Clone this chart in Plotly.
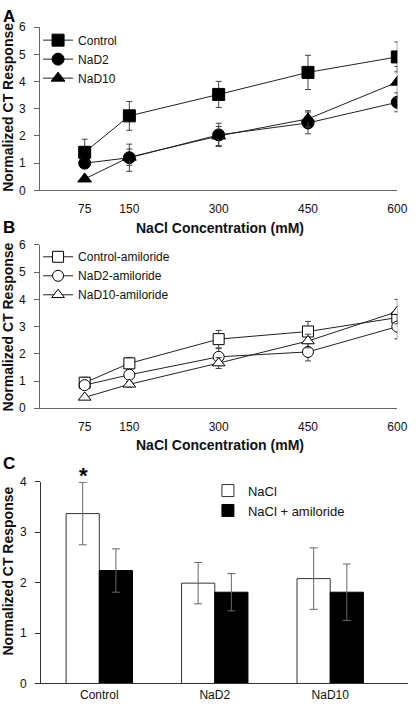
import plotly.graph_objects as go

# ---------------- Data ----------------
conc = [75, 150, 300, 450, 600]

# Panel A
ctrl_a = [1.40, 2.74, 3.53, 4.34, 4.91]
ctrl_a_err = [0.48, 0.53, 0.48, 0.63, 0.55]
nad2_a = [1.00, 1.20, 2.04, 2.48, 3.24]
nad2_a_err = [0.10, 0.50, 0.43, 0.40, 0.35]
nad10_a = [0.42, 1.22, 2.00, 2.63, 3.98]
nad10_a_err = [0.05, 0.30, 0.35, 0.30, 0.58]

# Panel B
ctrl_b = [0.94, 1.65, 2.54, 2.82, 3.33]
ctrl_b_err = [0.20, 0.22, 0.32, 0.37, 0.30]
nad2_b = [0.85, 1.23, 1.89, 2.07, 3.00]
nad2_b_err = [0.10, 0.15, 0.30, 0.33, 0.45]
nad10_b = [0.40, 0.88, 1.66, 2.47, 3.55]
nad10_b_err = [0.05, 0.10, 0.20, 0.25, 0.45]

# Panel C
groups = ["Control", "NaD2", "NaD10"]
nacl = [3.37, 1.99, 2.08]
nacl_err = [0.62, 0.41, 0.61]
nacl_amil = [2.24, 1.81, 1.81]
nacl_amil_err = [0.43, 0.37, 0.56]

x_ticks = [75, 150, 300, 450, 600]
y_ticks_ab = [0, 1, 2, 3, 4, 5, 6]
y_ticks_c = [0, 1, 2, 3, 4]

FONT = "Liberation Sans, Arial, sans-serif"
W, H = 420, 714


def px_y(p):
    return 1 - p / H


def px_x(p):
    return p / W


fig = go.Figure()


def line_trace(y, err, name, symbol, filled, xa, ya, legend, size):
    return go.Scatter(
        x=conc, y=y, name=name, mode="lines+markers",
        xaxis=xa, yaxis=ya, legend=legend,
        line=dict(color="#222", width=1),
        marker=dict(symbol=symbol, size=size,
                    color="black" if filled else "white",
                    line=dict(color="black", width=1)),
        error_y=dict(type="data", array=err, color="#444", thickness=1, width=3),
    )


# Panel A
fig.add_trace(line_trace(ctrl_a, ctrl_a_err, "Control", "square", True, "x", "y", "legend", 12))
fig.add_trace(line_trace(nad2_a, nad2_a_err, "NaD2", "circle", True, "x", "y", "legend", 12))
fig.add_trace(line_trace(nad10_a, nad10_a_err, "NaD10", "triangle-up", True, "x", "y", "legend", 12))

# Panel B
fig.add_trace(line_trace(ctrl_b, ctrl_b_err, "Control-amiloride", "square", False, "x2", "y2", "legend2", 11))
fig.add_trace(line_trace(nad2_b, nad2_b_err, "NaD2-amiloride", "circle", False, "x2", "y2", "legend2", 11))
fig.add_trace(line_trace(nad10_b, nad10_b_err, "NaD10-amiloride", "triangle-up", False, "x2", "y2", "legend2", 11))

# Panel C
fig.add_trace(go.Bar(
    x=groups, y=nacl, name="NaCl", xaxis="x3", yaxis="y3", legend="legend3",
    marker=dict(color="white", line=dict(color="#333", width=1)),
    error_y=dict(type="data", array=nacl_err, color="#666", thickness=1, width=4),
))
fig.add_trace(go.Bar(
    x=groups, y=nacl_amil, name="NaCl + amiloride", xaxis="x3", yaxis="y3", legend="legend3",
    marker=dict(color="black", line=dict(color="black", width=1)),
    error_y=dict(type="data", array=nacl_amil_err, color="#666", thickness=1, width=4),
))

axis_col = "#666"
tickfont = dict(family=FONT, size=12, color="#111")

xa_common = dict(
    range=[0, 600], tickvals=x_ticks, ticks="", showline=True, linecolor=axis_col,
    linewidth=1, showgrid=False, zeroline=False, tickfont=tickfont,
    ticklabelstandoff=7, fixedrange=True,
)
ya_common = dict(
    range=[0, 6], tickvals=y_ticks_ab, ticks="outside", ticklen=5, tickcolor=axis_col,
    showline=True, linecolor=axis_col, linewidth=1, showgrid=False, zeroline=False,
    tickfont=tickfont, ticklabelstandoff=6,
)
legend_common = dict(xanchor="left", yanchor="top", bgcolor="rgba(0,0,0,0)",
                     font=dict(family=FONT, size=12, color="#111"),
                     itemwidth=30, tracegroupgap=0)

fig.update_layout(
    width=W, height=H, margin=dict(l=0, r=0, t=0, b=0),
    paper_bgcolor="white", plot_bgcolor="white",
    font=dict(family=FONT, color="#111"),
    barmode="group", bargap=0.425, bargroupgap=0,
    xaxis=dict(domain=[px_x(41), px_x(407)], anchor="y", **xa_common),
    yaxis=dict(domain=[px_y(187), px_y(20.7)], anchor="x", **ya_common),
    xaxis2=dict(domain=[px_x(41), px_x(407)], anchor="y2", **xa_common),
    yaxis2=dict(domain=[px_y(409.3), px_y(242.7)], anchor="x2", **ya_common),
    xaxis3=dict(domain=[px_x(42), px_x(418)], anchor="y3", range=[-0.505, 2.674],
                ticks="", showline=True, linecolor="#333", showgrid=False,
                tickfont=dict(family=FONT, size=12, color="#111"), ticklabelstandoff=0),
    yaxis3=dict(domain=[px_y(690), px_y(484.3)], anchor="x3", range=[0, 4],
                tickvals=y_ticks_c, ticks="outside", ticklen=5, tickcolor="#333",
                showline=True, linecolor="#333", showgrid=False, zeroline=False,
                tickfont=tickfont, ticklabelstandoff=6),
    legend=dict(x=px_x(39), y=px_y(19), **legend_common),
    legend2=dict(x=px_x(39), y=px_y(240), **legend_common),
    legend3=dict(x=px_x(213), y=px_y(478), xanchor="left", yanchor="top",
                 bgcolor="rgba(0,0,0,0)", font=dict(family=FONT, size=13, color="#111"),
                 itemwidth=30, tracegroupgap=0),
    showlegend=True,
)

ann = []
# Panel letters
for letter, yp in [("A", 10), ("B", 225), ("C", 466)]:
    ann.append(dict(text=f"<b>{letter}</b>", x=px_x(1), y=px_y(yp), xref="paper", yref="paper",
                    xanchor="left", yanchor="middle", showarrow=False,
                    font=dict(family=FONT, size=17, color="black")))
# Y-axis titles
for yc in [102, 326, 575]:
    ann.append(dict(text="<b>Normalized CT Response</b>", x=px_x(8), y=px_y(yc),
                    xref="paper", yref="paper", xanchor="center", yanchor="middle",
                    textangle=-90, showarrow=False,
                    font=dict(family=FONT, size=14, color="#111")))
# X-axis titles
for yc in [225, 447]:
    ann.append(dict(text="<b>NaCl Concentration (mM)</b>", x=px_x(225), y=px_y(yc),
                    xref="paper", yref="paper", xanchor="center", yanchor="middle",
                    showarrow=False, font=dict(family=FONT, size=14, color="#111")))
# Significance asterisk
ann.append(dict(text="<b>*</b>", x=px_x(86), y=px_y(478), xref="paper", yref="paper",
                xanchor="center", yanchor="middle", showarrow=False,
                font=dict(family=FONT, size=22, color="black")))
fig.update_layout(annotations=ann)

fig.write_html(
    "out.html",
    config={"displayModeBar": False},
    post_script="document.body.style.margin='0';document.body.style.overflow='hidden';",
)
